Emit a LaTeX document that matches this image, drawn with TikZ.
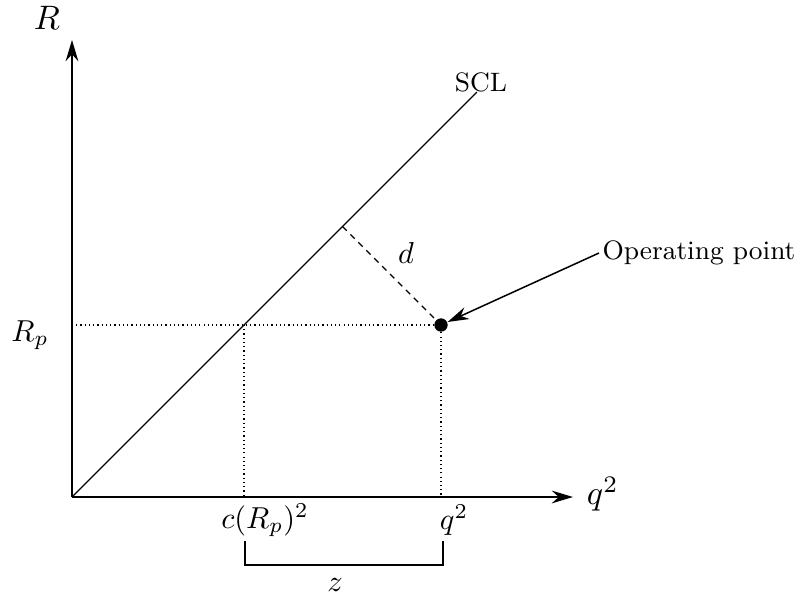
\documentclass[tikz,border=0pt]{standalone}
\usepackage{amsmath,amssymb}
\usetikzlibrary{arrows.meta}

\begin{document}
\begin{tikzpicture}[x=0.33pt,y=0.33pt,
  axis/.style={line width=0.6pt,-{Stealth[length=7pt,width=4.2pt]}},
  guide/.style={line width=0.4pt,densely dotted},
  pointer/.style={line width=0.5pt,-{Stealth[length=7pt,width=4.2pt]}},
  wordlab/.style={font=\fontsize{8.8}{10}\selectfont},
  axislab/.style={scale=1.12}]
\useasboundingbox (-72,-100) rectangle (735,497);
% axes
\coordinate (O) at (0,0);
\coordinate (ytip) at (0,457);
\coordinate (xtip) at (501,0);
\draw[axis] (O) -- (ytip);
\draw[axis] (O) -- (xtip);
\node[axislab] (Rlab) at (-25,479) {$R$};
\node[axislab,anchor=west] (qlab) at (503,3) {$q^2$};
% switching curve line
\coordinate (sclend) at (405,405);
\draw[line width=0.4pt] (O) -- (sclend);
\node[wordlab] (scl) at (409,415) {SCL};
% operating point and guides
\coordinate (Rp) at (0,172);
\coordinate (cross) at (172,172);
\coordinate (crossx) at (172,0);
\coordinate (px) at (369,0);
\coordinate (foot) at (270.5,270.5);
\node[circle,fill,inner sep=0pt,minimum size=4.4pt] (dot) at (369,172) {};
\draw[guide] (Rp) -- (dot);
\draw[guide] (cross) -- (crossx);
\draw[guide] (dot) -- (px);
\draw[line width=0.4pt,dash pattern=on 2pt off 1.7pt] (foot) -- (dot);
\node (dlab) at (334,244) {$d$};
\node[wordlab,anchor=west,inner sep=1pt] (oplab) at (527,244) {Operating point};
\draw[pointer] (oplab.west) -- (dot);
% tick labels
\node (Rplab) at (-42,162) {$R_p$};
\node (clab) at (193,-23) {$c(R_p)^2$};
\node (q2lab) at (382,-23) {$q^2$};
% bracket for z
\coordinate (bl) at (173,-44);
\coordinate (br) at (371,-44);
\draw[line width=0.5pt] (bl) -- (173,-68) -- (371,-68) -- (br);
\node (zlab) at (263,-88) {$z$};
\end{tikzpicture}
\end{document}
